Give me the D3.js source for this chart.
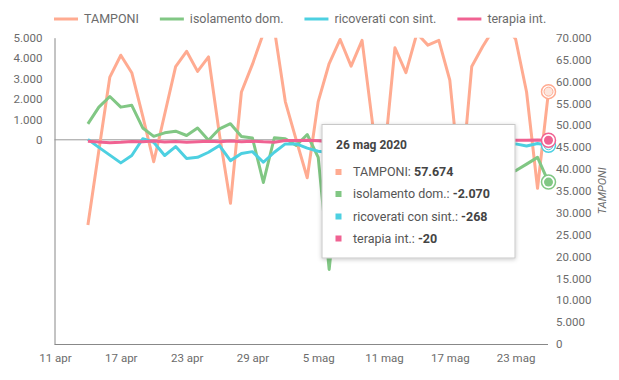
<!DOCTYPE html>
<html><head><meta charset="utf-8">
<script src="https://cdn.jsdelivr.net/npm/d3@7"></script>
<style>
body{margin:0;background:#fff;font-family:Roboto,"Noto Sans",sans-serif;}
svg{display:block}
</style></head><body>
<svg id="c" width="619" height="380"></svg>
<script>
// ---- data ----
const firstDay = "2020-04-14";
const lastDay = "2020-05-26";
const tamponi = [27200,44200,61000,66000,62000,52100,41650,52500,63400,66900,62300,65600,47800,32150,57600,63900,71000,72000,55400,46600,38000,55400,64100,69600,63500,69400,49500,42000,67700,62000,71000,68300,69400,60300,35200,63400,68000,72000,73000,69700,57600,35600,57674];
const isolamento = [780,1600,2120,1600,1690,580,170,340,420,210,580,-20,540,790,160,90,-2090,100,50,-280,260,-860,-6350,-1180,-920,-2450,-1760,-700,-1530,-2310,-1620,-1080,-1910,-2580,-740,-1290,-2020,-1690,-1400,-1520,-1190,-860,-2070];
const ricoverati = [20,-370,-750,-1130,-770,50,-120,-770,-330,-920,-860,-610,-280,-1020,-670,-580,-1100,-610,-200,-200,-410,-560,-620,-440,-700,-380,-530,-240,-350,-610,-470,-730,-290,-530,-260,-400,-560,-280,-350,-200,-300,-180,-268];
const terapia = [-74,-107,-143,-124,-79,-98,-62,-102,-87,-117,-94,-71,-93,-53,-93,-68,-101,-116,-39,-38,-22,-52,-94,-22,-143,-134,-7,-28,-47,-59,-38,-47,-33,-13,-13,-33,-40,-36,-45,-23,-19,-12,-20];
const seriesNames = ["TAMPONI","isolamento dom.","ricoverati con sint.","terapia int."];
const seriesColors = ["#ffab91","#81c784","#4dd0e1","#f06292"];
const leftTicks = [0,1000,2000,3000,4000,5000];
const rightTicks = [0,5000,10000,15000,20000,25000,30000,35000,40000,45000,50000,55000,60000,65000,70000];
const xTicks = ["2020-04-11","2020-04-17","2020-04-23","2020-04-29","2020-05-05","2020-05-11","2020-05-17","2020-05-23"];
const xDomain = ["2020-04-11","2020-05-26"];
const leftDomain = [-10000,5000];
const rightDomain = [0,70000];
const rightTitle = "TAMPONI";
const tooltipTitle = "26 mag 2020";

// ---- setup ----
const parse = d3.timeParse("%Y-%m-%d");
const dates = d3.timeDay.range(parse(firstDay), d3.timeDay.offset(parse(lastDay),1));
const itLocale = d3.timeFormatLocale({
  dateTime:"%A %e %B %Y, %X", date:"%d/%m/%Y", time:"%H:%M:%S", periods:["AM","PM"],
  days:["domenica","lunedì","martedì","mercoledì","giovedì","venerdì","sabato"],
  shortDays:["dom","lun","mar","mer","gio","ven","sab"],
  months:["gennaio","febbraio","marzo","aprile","maggio","giugno","luglio","agosto","settembre","ottobre","novembre","dicembre"],
  shortMonths:["gen","feb","mar","apr","mag","giu","lug","ago","set","ott","nov","dic"]
});
const nf = d3.formatLocale({decimal:",",thousands:".",grouping:[3],currency:["€",""],minus:"-"}).format(",d");

const svg = d3.select("#c");
const pTop = 37.7, pBottom = 344, pLeft = 54.5, pRight = 549;
const x = d3.scaleTime().domain(xDomain.map(parse)).range([55, 548.5]);
const yL = d3.scaleLinear().domain(leftDomain).range([pBottom, pTop]);
const yR = d3.scaleLinear().domain(rightDomain).range([pBottom, pTop]);
const txt = "#6b6b6b";

// filters / clip
const defs = svg.append("defs");
defs.append("clipPath").attr("id","plot").append("rect")
  .attr("x",pLeft).attr("y",pTop).attr("width",pRight-pLeft+2).attr("height",pBottom-pTop);
const f = defs.append("filter").attr("id","sh").attr("x","-20%").attr("y","-20%").attr("width","140%").attr("height","140%");
f.append("feDropShadow").attr("dx",0).attr("dy",1).attr("stdDeviation",2).attr("flood-color","#000").attr("flood-opacity",0.22);

// axes
const gL = svg.append("g").attr("transform",`translate(${pLeft},0)`)
  .call(d3.axisLeft(yL).tickValues(leftTicks).tickSize(0).tickPadding(12).tickFormat(nf));
gL.select(".domain").attr("stroke","#888").attr("stroke-width",1);
gL.selectAll("text").attr("fill",txt).attr("font-size","11.5px").attr("font-family","Roboto");

const gR = svg.append("g").attr("transform",`translate(547,0)`)
  .call(d3.axisRight(yR).tickValues(rightTicks).tickSize(0).tickPadding(9).tickFormat(nf));
gR.select(".domain").remove();
gR.selectAll("text").attr("fill",txt).attr("font-size","11.5px").attr("font-family","Roboto");

const gB = svg.append("g").attr("transform",`translate(0,${pBottom})`)
  .call(d3.axisBottom(x).tickValues(xTicks.map(parse)).tickSize(0).tickPadding(10).tickFormat(itLocale.format("%-d %b")));
gB.select(".domain").attr("stroke","#888").attr("stroke-width",1).attr("d",`M${pLeft},0.5H548`);
gB.selectAll("text").attr("fill",txt).attr("font-size","11.5px").attr("font-family","Roboto");

// zero line
svg.append("line").attr("x1",pLeft).attr("x2",549).attr("y1",yL(0)).attr("y2",yL(0))
  .attr("stroke","#999").attr("stroke-width",1);

// right title
svg.append("text").attr("transform",`translate(606,${(pTop+pBottom)/2}) rotate(-90)`)
  .attr("text-anchor","middle").attr("font-size","11px").attr("font-style","italic")
  .attr("fill",txt).text(rightTitle);

// lines
const series = [
  {vals:tamponi, y:yR},
  {vals:isolamento, y:yL},
  {vals:ricoverati, y:yL},
  {vals:terapia, y:yL}
];
const gLines = svg.append("g").attr("clip-path","url(#plot)");
series.forEach((s,i)=>{
  const line = d3.line().x((d,j)=>x(dates[j])).y(d=>s.y(d));
  gLines.append("path").datum(s.vals).attr("d",line).attr("fill","none")
    .attr("stroke",seriesColors[i]).attr("stroke-width",3).attr("stroke-linejoin","round");
});

// focus markers at last point
const li = dates.length-1;
const innerFill = ["#fde6dd","#81c784","#e8f8fa","#f06292"];
series.forEach((s,i)=>{
  const cx = x(dates[li]), cy = s.y(s.vals[li]);
  svg.append("circle").attr("cx",cx).attr("cy",cy).attr("r",7)
    .attr("fill","#fff").attr("stroke",seriesColors[i]).attr("stroke-width",1.5);
  svg.append("circle").attr("cx",cx).attr("cy",cy).attr("r",4.5)
    .attr("fill",innerFill[i]).attr("stroke",i===0||i===2?seriesColors[i]:"none").attr("stroke-width",1);
});

// legend
const lg = svg.append("g").attr("font-size","12.5px").attr("fill",txt);
let lx = 54;
seriesNames.forEach((n,i)=>{
  lg.append("line").attr("x1",lx).attr("x2",lx+24).attr("y1",19).attr("y2",19)
    .attr("stroke",seriesColors[i]).attr("stroke-width",3);
  const t = lg.append("text").attr("x",lx+30).attr("y",23.3).attr("fill",txt).text(n);
  lx += 30 + t.node().getComputedTextLength() + 21;
});

// tooltip
const tt = svg.append("g");
tt.append("rect").attr("x",322).attr("y",124.5).attr("width",193).attr("height",133.5)
  .attr("fill","#fff").attr("stroke","#c8c8c8").attr("stroke-width",1).attr("filter","url(#sh)");
tt.append("text").attr("x",336).attr("y",148.5).attr("font-size","12px").attr("font-weight","bold")
  .attr("fill","#444").text(tooltipTitle);
const rowY = [172,194,216.5,238.5];
series.forEach((s,i)=>{
  tt.append("rect").attr("x",335.5).attr("y",rowY[i]-3).attr("width",6).attr("height",6).attr("fill",seriesColors[i]);
  const t = tt.append("text").attr("x",353).attr("y",rowY[i]+4.3).attr("font-size","12.5px").attr("fill","#555");
  t.append("tspan").text(seriesNames[i]+": ");
  t.append("tspan").attr("font-weight","bold").attr("fill","#444").text(nf(s.vals[li]));
});
</script>
</body></html>
